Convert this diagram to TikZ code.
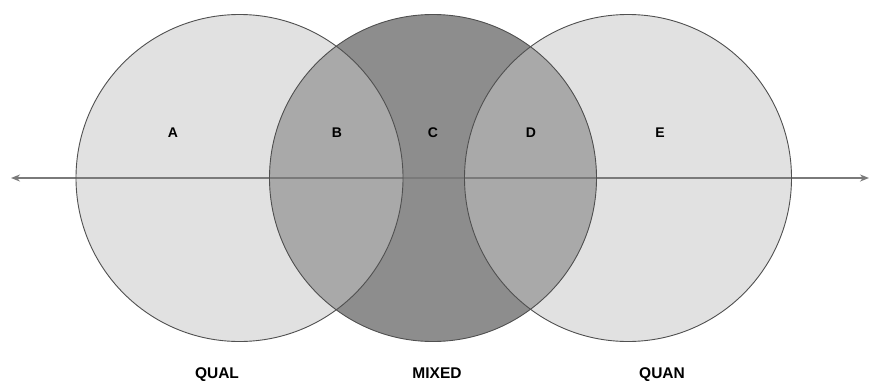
\documentclass[tikz,border=0pt]{standalone}
\usepackage{fontspec}
\setmainfont{Liberation Sans}
\usetikzlibrary{arrows.meta}

\definecolor{lightfill}{HTML}{E1E1E1}
\definecolor{midfill}{HTML}{A9A9A9}
\definecolor{darkfill}{HTML}{8D8D8D}
\definecolor{rimcol}{HTML}{505050}
\definecolor{axiscol}{HTML}{7A7A7A}

\tikzset{
  ring/.style={circle, draw=rimcol, line width=0.9pt, minimum size=327pt, inner sep=0pt},
  tag/.style={anchor=base, font=\bfseries\fontsize{14}{14}\selectfont},
  paradigm/.style={anchor=base, font=\bfseries\fontsize{15.5}{15.5}\selectfont}
}

\begin{document}
\begin{tikzpicture}[x=1pt,y=-1pt]
    \useasboundingbox (0,0) rectangle (869,380);

    % Circle fills:
    \fill[lightfill] (239.5,178) circle (163.5);
    \fill[lightfill] (628,178) circle (163.5);
    \fill[darkfill] (433,178) circle (163.5);
    \begin{scope}
      \clip (239.5,178) circle (163.5);
      \fill[midfill] (433,178) circle (163.5);
    \end{scope}
    \begin{scope}
      \clip (628,178) circle (163.5);
      \fill[midfill] (433,178) circle (163.5);
    \end{scope}

    % Axis:
    \coordinate (west) at (11,178);
    \coordinate (east) at (869,178);
    \draw[axiscol, line width=1.6pt, {Stealth[length=9pt,width=7pt]}-{Stealth[length=9pt,width=7pt]}] (west) -- (east);

    % Circle outlines:
    \node[ring] (qual) at (239.5,178) {};
    \node[ring] (mixed) at (433,178) {};
    \node[ring] (quan) at (628,178) {};

    % Region letters:
    \node[tag] (a) at (173,137) {A};
    \node[tag] (b) at (337,137) {B};
    \node[tag] (c) at (433,137) {C};
    \node[tag] (d) at (531,137) {D};
    \node[tag] (e) at (660,137) {E};

    % Paradigm labels:
    \node[paradigm] (quallabel) at (217,378) {QUAL};
    \node[paradigm] (mixedlabel) at (437,378) {MIXED};
    \node[paradigm] (quanlabel) at (662,378) {QUAN};
  \end{tikzpicture}
\end{document}
